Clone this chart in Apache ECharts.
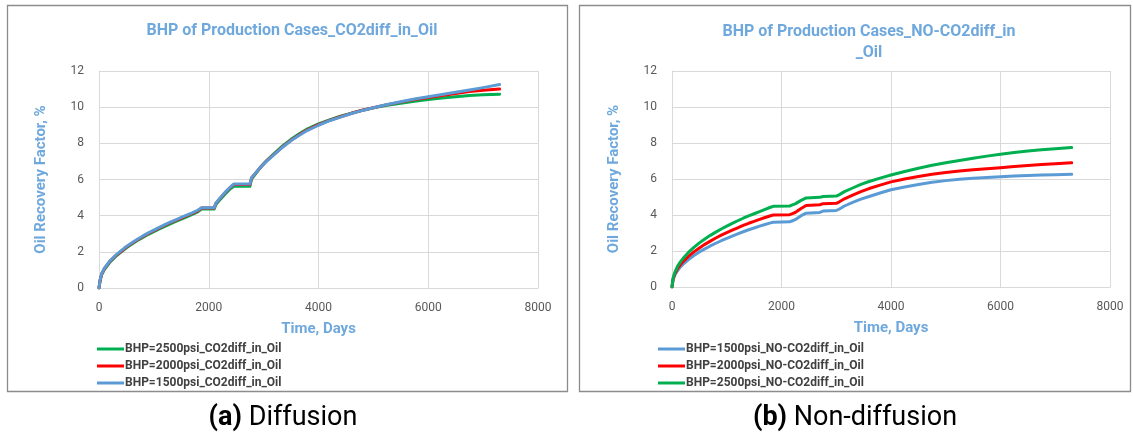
<!DOCTYPE html>
<html>
<head>
<meta charset="utf-8">
<script src="https://cdn.jsdelivr.net/npm/echarts@6/dist/echarts.min.js"></script>
<style>
html,body{margin:0;padding:0;background:#fff;}
#c{width:1133px;height:438px;}
</style>
</head>
<body>
<div id="c"></div>
<script>
// ---- Data ----
// (a) Diffusion
const diffTime = [0,20,50,100,150,200,300,400,500,600,700,800,900,1000,1100,1200,1300,1400,1500,1600,1700,1800,1870,2100,2130,2200,2300,2400,2460,2750,2780,2850,2950,3050,3200,3350,3500,3650,3800,4000,4200,4400,4600,4800,5000,5250,5500,5750,6000,6250,6500,6750,7000,7300];
const diff1500 = [0,0.45,0.8,1.1,1.3,1.5,1.8,2.05,2.3,2.5,2.7,2.88,3.05,3.2,3.35,3.5,3.64,3.77,3.9,4.03,4.16,4.3,4.44,4.44,4.7,4.95,5.3,5.6,5.75,5.75,6.1,6.35,6.7,7.0,7.4,7.8,8.15,8.45,8.72,9.0,9.25,9.45,9.65,9.82,9.97,10.15,10.3,10.45,10.58,10.7,10.83,10.95,11.08,11.25];
const diff2000 = [0,0.43,0.78,1.08,1.28,1.48,1.78,2.02,2.27,2.47,2.67,2.85,3.02,3.17,3.32,3.47,3.61,3.74,3.87,4.0,4.13,4.27,4.42,4.42,4.68,4.93,5.28,5.58,5.72,5.72,6.08,6.34,6.7,7.01,7.42,7.82,8.17,8.48,8.75,9.03,9.27,9.47,9.66,9.83,9.97,10.14,10.28,10.42,10.54,10.65,10.76,10.86,10.94,11.0];
const diff2500 = [0,0.4,0.74,1.03,1.23,1.43,1.73,1.98,2.22,2.43,2.63,2.8,2.97,3.12,3.27,3.41,3.55,3.68,3.81,3.94,4.07,4.21,4.37,4.37,4.62,4.86,5.2,5.5,5.62,5.62,6.02,6.3,6.7,7.03,7.46,7.87,8.22,8.53,8.8,9.07,9.3,9.5,9.67,9.83,9.96,10.1,10.22,10.33,10.43,10.51,10.58,10.64,10.68,10.72];

// (b) Non-diffusion
const noTime = [0,20,50,100,150,200,300,400,500,600,700,800,900,1000,1100,1200,1300,1400,1500,1600,1700,1800,1850,2150,2200,2250,2350,2450,2480,2700,2730,2760,3000,3050,3150,3300,3450,3600,3800,4000,4250,4500,4750,5000,5250,5500,5750,6000,6250,6500,6750,7000,7300];
const no1500 = [0,0.4,0.65,0.9,1.1,1.25,1.52,1.75,1.95,2.12,2.28,2.43,2.57,2.7,2.83,2.95,3.07,3.18,3.28,3.38,3.47,3.56,3.6,3.62,3.68,3.74,3.95,4.1,4.12,4.14,4.2,4.22,4.25,4.32,4.5,4.7,4.88,5.03,5.22,5.4,5.56,5.7,5.82,5.91,5.98,6.04,6.09,6.13,6.17,6.2,6.22,6.24,6.26];
const no2000 = [0,0.45,0.72,1.02,1.23,1.4,1.7,1.95,2.17,2.37,2.55,2.72,2.88,3.02,3.16,3.29,3.42,3.54,3.65,3.76,3.86,3.96,4.0,4.02,4.08,4.14,4.35,4.53,4.55,4.57,4.62,4.63,4.65,4.72,4.9,5.1,5.3,5.47,5.66,5.84,6.0,6.14,6.26,6.36,6.44,6.51,6.57,6.63,6.69,6.75,6.8,6.85,6.9];
const no2500 = [0,0.5,0.8,1.15,1.38,1.58,1.92,2.2,2.45,2.67,2.87,3.05,3.22,3.38,3.53,3.68,3.82,3.95,4.07,4.19,4.31,4.43,4.48,4.5,4.56,4.62,4.8,4.95,4.97,4.98,5.02,5.03,5.05,5.12,5.3,5.5,5.7,5.86,6.05,6.22,6.42,6.6,6.76,6.9,7.03,7.15,7.27,7.38,7.47,7.55,7.62,7.68,7.75];

const diffNames = ['BHP=2500psi_CO2diff_in_Oil','BHP=2000psi_CO2diff_in_Oil','BHP=1500psi_CO2diff_in_Oil'];
const noNames = ['BHP=1500psi_NO-CO2diff_in_Oil','BHP=2000psi_NO-CO2diff_in_Oil','BHP=2500psi_NO-CO2diff_in_Oil'];
const titles = ['BHP of Production Cases_CO2diff_in_Oil', 'BHP of Production Cases_NO-CO2diff_in\n_Oil'];
const captions = [['(a)', 'Diffusion'], ['(b)', 'Non-diffusion']];
const xName = 'Time, Days';
const yName = 'Oil Recovery Factor, %';

// ---- Styling ----
const BLUE = '#5b9bd5', RED = '#ff0000', GREEN = '#00b050';
const TITLE_C = '#6fa8dc';
const FONT = 'Roboto, "Open Sans", sans-serif';

function pairs(t, v) { return t.map((x, i) => [x, v[i]]); }

function lineSeries(name, t, v, color, idx) {
  return {
    type: 'line', name: name, xAxisIndex: idx, yAxisIndex: idx,
    data: pairs(t, v), showSymbol: false, symbol: 'none', smooth: false,
    lineStyle: { color: color, width: 3, join: 'round', cap: 'round' }, itemStyle: { color: color },
    emphasis: { disabled: true }, animation: false
  };
}

function xAx(idx) {
  return {
    type: 'value', gridIndex: idx, min: 0, max: 8000, interval: 2000,
    name: xName, nameLocation: 'middle', nameGap: 34,
    nameTextStyle: { color: TITLE_C, fontWeight: 'bold', fontSize: 15, fontFamily: FONT },
    axisLine: { show: true, lineStyle: { color: '#d9d9d9' } },
    axisTick: { show: false },
    axisLabel: { color: '#595959', fontSize: 12, fontFamily: FONT, margin: 14, formatter: v => String(v) },
    splitLine: { show: true, lineStyle: { color: '#d9d9d9' } }
  };
}
function yAx(idx) {
  return {
    type: 'value', gridIndex: idx, min: 0, max: 12, interval: 2,
    name: yName, nameLocation: 'middle', nameGap: 50, nameRotate: 90,
    nameTextStyle: { color: TITLE_C, fontWeight: 'bold', fontSize: 15, fontFamily: FONT },
    axisLine: { show: true, lineStyle: { color: '#d9d9d9' } },
    axisTick: { show: false },
    axisLabel: { color: '#595959', fontSize: 12, fontFamily: FONT, margin: 15, formatter: v => String(v) },
    splitLine: { show: true, lineStyle: { color: '#d9d9d9' } }
  };
}

function legendAt(names, left) {
  return { data: names, orient: 'vertical', left: left, top: 338, icon: 'rect',
    itemWidth: 27, itemHeight: 3, itemGap: 5,
    textStyle: { color: '#404040', fontWeight: 'bold', fontSize: 12, fontFamily: FONT, padding: [0,0,0,-4] } };
}

function caption(c, x) {
  return { type: 'text', silent: true,
    style: { text: '{b|' + c[0] + '} ' + c[1], x: x, y: 418, align: 'center', verticalAlign: 'middle',
      font: '27px ' + FONT, fill: '#000',
      rich: { b: { fontWeight: 'bold', fontSize: 27, fontFamily: FONT, fill: '#000' } } } };
}

const chart = echarts.init(document.getElementById('c'), null, { renderer: 'canvas' });
chart.setOption({
  backgroundColor: '#fff',
  animation: false,
  title: [
    { text: titles[0], left: 287, textAlign: 'center', top: 18,
      textStyle: { color: TITLE_C, fontSize: 16, fontWeight: 'bold', fontFamily: FONT } },
    { text: titles[1], left: 864, textAlign: 'center', top: 16,
      textStyle: { color: TITLE_C, fontSize: 16, fontWeight: 'bold', fontFamily: FONT, lineHeight: 21 } }
  ],
  grid: [
    { left: 99, top: 71, width: 439, height: 217 },
    { left: 672, top: 71, width: 438, height: 216 }
  ],
  xAxis: [xAx(0), xAx(1)],
  yAxis: [yAx(0), yAx(1)],
  legend: [legendAt(diffNames, 92), legendAt(noNames, 653)],
  series: [
    lineSeries(diffNames[0], diffTime, diff2500, GREEN, 0),
    lineSeries(diffNames[1], diffTime, diff2000, RED, 0),
    lineSeries(diffNames[2], diffTime, diff1500, BLUE, 0),
    lineSeries(noNames[0], noTime, no1500, BLUE, 1),
    lineSeries(noNames[1], noTime, no2000, RED, 1),
    lineSeries(noNames[2], noTime, no2500, GREEN, 1)
  ],
  graphic: [
    { type: 'rect', shape: { x: 7.5, y: 5.5, width: 560, height: 386 }, silent: true,
      style: { fill: 'none', stroke: '#8c8c8c', lineWidth: 1.3 } },
    { type: 'rect', shape: { x: 579.5, y: 5.5, width: 551, height: 386 }, silent: true,
      style: { fill: 'none', stroke: '#8c8c8c', lineWidth: 1.3 } },
    caption(captions[0], 283),
    caption(captions[1], 855)
  ]
});
</script>
</body>
</html>
